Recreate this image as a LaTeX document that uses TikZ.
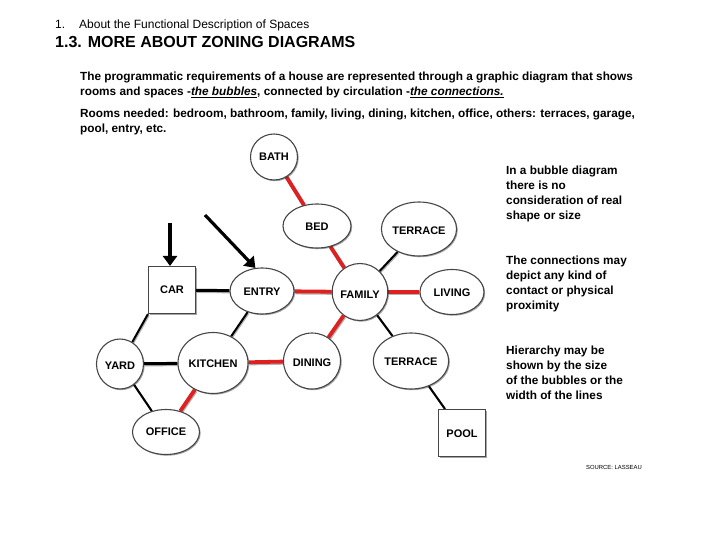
\documentclass[tikz,border=0pt]{standalone}
\usepackage{fontspec}
\setmainfont{Liberation Sans}
\usetikzlibrary{shapes.geometric,shadows,backgrounds,arrows.meta}
\definecolor{conred}{RGB}{222,32,32}
\definecolor{bubline}{RGB}{70,70,70}
\newcommand{\dn}[2]{\raisebox{-#1pt}[\height][0pt]{#2}}
\begin{document}
\begin{tikzpicture}[x=1pt,y=-1pt,
  bub/.style={ellipse,draw=bubline,line width=1.1pt,fill=white,inner sep=0pt,
    font=\fontsize{11}{12}\selectfont\bfseries,
    drop shadow={shadow xshift=1.2pt,shadow yshift=-1.2pt,opacity=0.35,fill=black}},
  sq/.style={rectangle,draw=bubline,line width=1.1pt,fill=white,inner sep=0pt,
    minimum width=47pt,minimum height=47pt,
    font=\fontsize{11}{12}\selectfont\bfseries,
    drop shadow={shadow xshift=1.2pt,shadow yshift=-1.2pt,opacity=0.35,fill=black}},
  redc/.style={draw=conred,line width=3.8pt,
    preaction={draw=black!30,line width=3.8pt,transform canvas={xshift=0.8pt,yshift=-1.2pt}}},
  blkc/.style={draw=black,line width=3pt,
    preaction={draw=black!30,line width=3pt,transform canvas={xshift=0.8pt,yshift=-1.2pt}}},
  thinc/.style={draw=black,line width=2pt,
    preaction={draw=black!30,line width=2pt,transform canvas={xshift=0.8pt,yshift=-1.2pt}}},
  txt/.style={anchor=base west,inner sep=0pt,font=\fontsize{11.8}{13}\selectfont\bfseries},
  sidetxt/.style={anchor=north west,inner sep=0pt,align=left,
    font=\fontsize{11.8}{15}\selectfont\bfseries},
  arr/.style={draw=black,line width=3.2pt,-{Triangle[length=10pt,width=14pt]}}
]
\useasboundingbox (0,0) rectangle (720,540);

% headings
\node[anchor=base west,inner sep=0pt,font=\fontsize{12}{13}\selectfont] (h1) at (55,28.3)
  {1.\hspace{14pt}About the Functional Description of Spaces};
\node[anchor=base west,inner sep=0pt,font=\fontsize{16}{18}\selectfont\bfseries] (h2) at (55,47.7)
  {1.3. MORE ABOUT ZONING DIAGRAMS};

% paragraph
\node[txt] (p1) at (80,80.5) {The programmatic requirements of a house are represented through a graphic diagram that shows};
\node[txt] (p2) at (80,95.5) {rooms and spaces -\underline{\textit{the bubbles}}, connected by circulation -\underline{\textit{the connections.}}};
\node[txt] (p3) at (80,118) {Rooms needed: bedroom, bathroom, family, living, dining, kitchen, office, others: terraces, garage,};
\node[txt] (p4) at (80,133) {pool, entry, etc.};

% side notes
\node[sidetxt] (s1) at (506,165.5) {In a bubble diagram\\there is no\\consideration of real\\shape or size};
\node[sidetxt] (s2) at (506,255.5) {The connections may\\depict any kind of\\contact or physical\\proximity};
\node[sidetxt] (s3) at (506,345.5) {Hierarchy may be\\shown by the size\\of the bubbles or the\\width of the lines};

\node[anchor=center,inner sep=0pt,font=\fontsize{5.9}{6}\selectfont] (src) at (614,467) {SOURCE: LASSEAU};

% bubbles
\node[bub,minimum width=47pt,minimum height=46pt] (bath) at (274,157) {BATH};
\node[bub,minimum width=68pt,minimum height=44pt] (bed) at (317,226) {\dn{0.5}{BED}};
\node[bub,minimum width=68pt,minimum height=54pt] (terr1) at (419,229) {\dn{2}{TERRACE}};
\node[bub,minimum width=55pt,minimum height=57pt] (family) at (360,292) {\dn{3}{FAMILY}};
\node[bub,minimum width=64pt,minimum height=45pt] (living) at (452,292) {\dn{1}{LIVING}};
\node[bub,minimum width=64pt,minimum height=46pt] (entry) at (262,291) {\dn{1}{ENTRY}};
\node[sq] (car) at (172,290) {CAR};
\node[bub,minimum width=47pt,minimum height=50pt] (yard) at (120,364) {\dn{1.5}{YARD}};
\node[bub,minimum width=70pt,minimum height=61pt] (kitchen) at (213,363) {\dn{0.5}{KITCHEN}};
\node[bub,minimum width=57pt,minimum height=56pt] (dining) at (312,361) {\dn{1.5}{DINING}};
\node[bub,minimum width=69pt,minimum height=56pt] (terr2) at (411,361) {\dn{0.5}{TERRACE}};
\node[bub,minimum width=67pt,minimum height=45pt] (office) at (166,432) {OFFICE};
\node[sq] (pool) at (462,433) {\dn{1}{POOL}};

\coordinate (a1s) at (170,223);
\coordinate (a2s) at (205,215);

\begin{scope}[on background layer]
  \fill[white] (0,0) rectangle (720,540);
  \path[redc] (bath) -- (bed);
  \path[redc] (bed) -- (family);
  \path[thinc] (terr1) -- (family);
  \path[redc] (family) -- (living);
  \path[redc] (entry) -- (family);
  \path[blkc] (car) -- (entry);
  \path[thinc] (car.south west) -- (yard);
  \path[thinc] (entry) -- (kitchen);
  \path[blkc] (yard) -- (kitchen);
  \path[thinc] (yard) -- (office);
  \path[redc] (kitchen) -- (office);
  \path[redc] (kitchen) -- (dining);
  \path[redc] (dining) -- (family);
  \path[thinc] (family) -- (terr2);
  \path[thinc] (terr2) -- (pool);
\end{scope}

\draw[arr] (a1s) -- (car.north -| a1s);
\draw[arr] (a2s) -- (entry.106);
\end{tikzpicture}
\end{document}
